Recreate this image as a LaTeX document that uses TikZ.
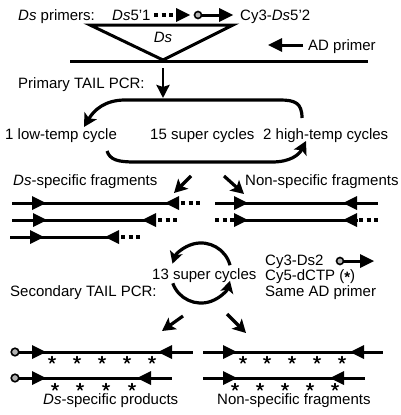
\documentclass[tikz,border=0pt]{standalone}
\usepackage{fontspec}
\setmainfont{Liberation Sans}
\usetikzlibrary{arrows.meta}
\tikzset{
 lbl/.style={anchor=base west, inner sep=0pt, font=\fontsize{15}{17}\selectfont},
 thickln/.style={line width=3pt},
 frag/.style={line width=3pt},
 dots/.style={line width=4.4pt, dash pattern=on 4.2pt off 3.4pt},
 bigarrow/.style={line width=3.2pt, -{Stealth[length=13pt,width=14pt,inset=3pt]}},
 ring/.style={draw=black, fill=gray!60, line width=1.6pt},
 rh/.pic={\fill (0,0) -- (-14,-7) -- (-14,7) -- cycle;},
 lh/.pic={\fill (0,0) -- (14,-7) -- (14,7) -- cycle;},
 starmark/.pic={\foreach \a in {90,162,234,306,18}{\draw[line width=1.5pt, line cap=round] (0,0) -- ++(\a:3.5pt);}}
}
\begin{document}
\begin{tikzpicture}[x=1pt,y=-1pt]
\useasboundingbox (0,0) rectangle (400,415);
% ---------- top: primers and insertion
\node[lbl] (t1) at (18,20) {\textit{Ds} primers:};
\node[lbl] (t2) at (112,20) {\textit{Ds}5'1};
\node[lbl] (t3) at (240,20) {Cy3-\textit{Ds}5'2};
\draw[dots] (154,15) -- (175,15);
\pic at (190,15) {rh};
\coordinate (r0) at (198,15);
\draw[line width=3pt] (r0) -- (220,15);
\pic at (233,15) {rh};
\draw[ring] (r0) circle[radius=3.5pt];
\draw[thickln, line join=miter] (90,25) -- (233,25) -- (163,60) -- cycle;
\node[anchor=base, inner sep=0pt, font=\fontsize{15}{17}\selectfont] (tds) at (163,42) {\textit{Ds}};
\draw[thickln] (70,61) -- (368,61);
\coordinate (ad1) at (303,45);
\coordinate (ad2) at (268,45);
\draw[line width=3pt] (ad1) -- (280,45);
\pic at (ad2) {lh};
\node[lbl] (tad) at (308,50) {AD primer};
% ---------- primary PCR
\node[lbl] (tp) at (18,88) {Primary TAIL PCR:};
\coordinate (d1) at (163,68);
\coordinate (d2) at (163,98);
\draw[line width=2.8pt, -{Stealth[length=13pt,width=13pt,inset=2pt]}] (d1) -- (d2);
\coordinate (a1s) at (302,118);
\coordinate (a1e) at (84,127);
\draw[bigarrow] (a1s) .. controls (302,103) and (295,100) .. (280,100) -- (125,100) .. controls (105,100) and (94,110) .. (a1e);
\node[lbl] (r1) at (5,139) {1 low-temp cycle};
\node[lbl] (r2) at (150,139) {15 super cycles};
\node[lbl] (r3) at (263,139) {2 high-temp cycles};
\coordinate (a2s) at (107,151);
\coordinate (a2e) at (306,141);
\draw[bigarrow] (a2s) .. controls (110,160) and (118,162) .. (135,162) -- (272,162) .. controls (290,162) and (299,155) .. (a2e);
\node[lbl] (f1) at (13,185) {\textit{Ds}-specific fragments};
\node[lbl] (f2) at (245,185) {Non-specific fragments};
\coordinate (b1s) at (191,176);
\coordinate (b1e) at (174,193);
\draw[bigarrow] (b1s) -- (b1e);
\coordinate (b2s) at (224,176);
\coordinate (b2e) at (244,194);
\draw[bigarrow] (b2s) -- (b2e);
% ---------- fragments after primary
\draw[frag] (12,203) -- (179,203);
\pic at (46,203) {rh}; \pic at (165,203) {lh};
\draw[dots] (181,203) -- (201,203);
\draw[frag] (12,220) -- (156,220);
\pic at (47,220) {rh}; \pic at (142,220) {lh};
\draw[dots] (158,220) -- (179,220);
\draw[frag] (10,237) -- (119,237);
\pic at (44,237) {rh}; \pic at (105,237) {lh};
\draw[dots] (121,237) -- (141,237);
\draw[frag] (215,203) -- (378,203);
\pic at (248,203) {rh}; \pic at (343,203) {lh};
\draw[dots] (215,220) -- (235,220);
\draw[frag] (235,220) -- (358,220);
\pic at (248,220) {rh}; \pic at (343,220) {lh};
\draw[dots] (359,220) -- (380,220);
% ---------- secondary PCR
\node[lbl] (s1) at (10,296) {Secondary TAIL PCR:};
\node[lbl] (s13) at (152,279) {13 super cycles};
\coordinate (cs1) at (230,265.2);
\draw[line width=3.2pt, -{Stealth[length=12pt,width=13pt,inset=3pt]}] (cs1) arc[start angle=15, end angle=162, radius=30pt];
\coordinate (cs2) at (172.8,283.3);
\draw[line width=3.2pt, -{Stealth[length=12pt,width=13pt,inset=3pt]}] (cs2) arc[start angle=200, end angle=345, radius=30pt];
\node[lbl] (c1) at (265,265) {Cy3-Ds2};
\node[lbl] (c2) at (265,280) {Cy5-dCTP (\smash{\raisebox{-2.5pt}{\textbf{*}}})};
\node[lbl] (c3) at (265,296) {Same AD primer};
\coordinate (cr) at (340,261);
\draw[line width=3pt] (cr) -- (362,261);
\pic at (374,261) {rh};
\draw[ring] (cr) circle[radius=3.5pt];
\coordinate (e1s) at (183,316);
\coordinate (e1e) at (162,331);
\draw[bigarrow] (e1s) -- (e1e);
\coordinate (e2s) at (227,314);
\coordinate (e2e) at (246,333);
\draw[bigarrow] (e2s) -- (e2e);
% ---------- final products
\draw[frag] (15,352) -- (193,352);
\pic at (46,352) {rh}; \pic at (158,352) {lh};
\draw[ring] (15,352) circle[radius=3.8pt];
\foreach \x in {52,77,102,127,152} \pic at (\x,360) {starmark};
\draw[frag] (15,378) -- (172,378);
\pic at (46,378) {rh}; \pic at (137,378) {lh};
\draw[ring] (15,378) circle[radius=3.8pt];
\foreach \x in {55,80,106,132} \pic at (\x,387) {starmark};
\draw[frag] (203,352) -- (383,352);
\pic at (237,352) {rh}; \pic at (350,352) {lh};
\foreach \x in {243,267,292,317,342} \pic at (\x,360) {starmark};
\draw[frag] (203,378) -- (365,378);
\pic at (237,378) {rh}; \pic at (330,378) {lh};
\foreach \x in {235,260,285,310,335} \pic at (\x,387) {starmark};
\node[lbl] (p1) at (43,404) {\textit{Ds}-specific products};
\node[lbl] (p2) at (217,404) {Non-specific fragments};
\end{tikzpicture}
\end{document}
